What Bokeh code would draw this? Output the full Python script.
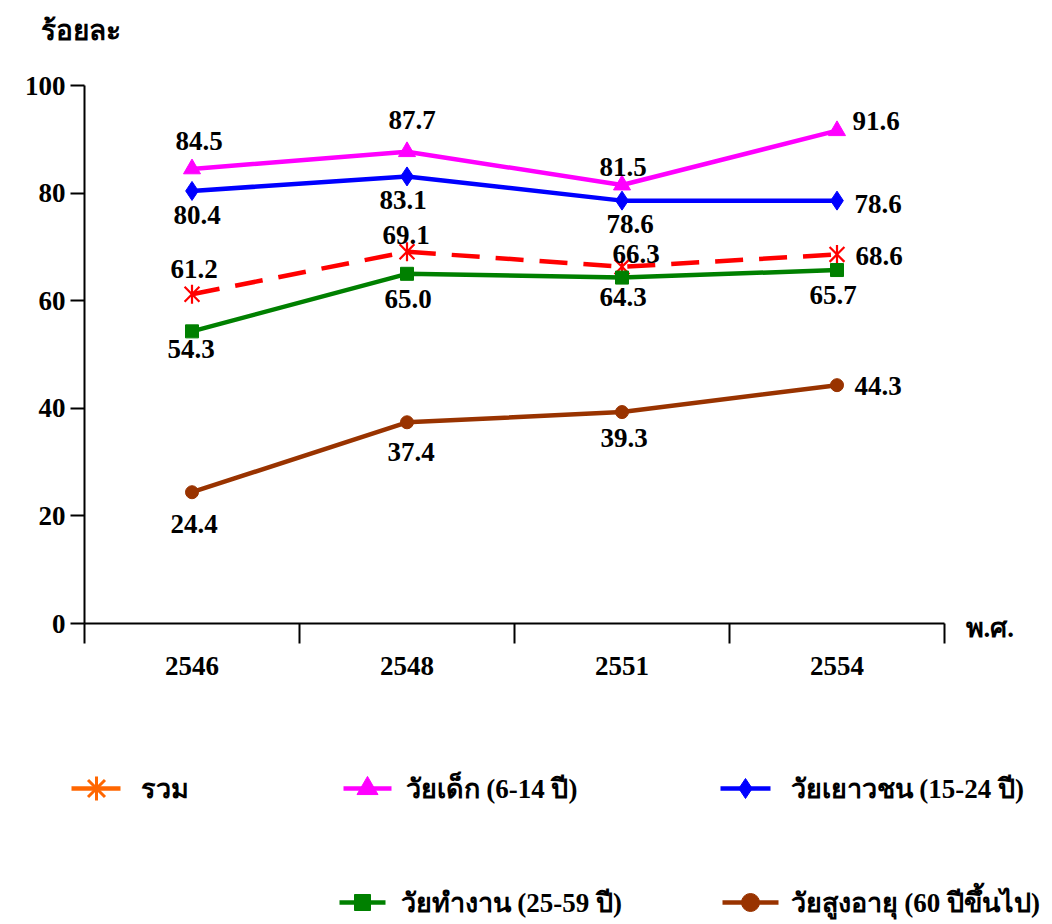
from bokeh.plotting import figure
from bokeh.models import Range1d, FixedTicker, ColumnDataSource
from bokeh.core.properties import value
from bokeh.embed import file_html
from bokeh.resources import INLINE
import math

# ---------------- data ----------------
years = ["2546", "2548", "2551", "2554"]
total = [61.2, 69.1, 66.3, 68.6]        # รวม
children = [84.5, 87.7, 81.5, 91.6]     # วัยเด็ก (6-14 ปี)
youth = [80.4, 83.1, 78.6, 78.6]        # วัยเยาวชน (15-24 ปี)
working = [54.3, 65.0, 64.3, 65.7]      # วัยทำงาน (25-59 ปี)
elderly = [24.4, 37.4, 39.3, 44.3]      # วัยสูงอายุ (60 ปีขึ้นไป)
y_ticks = [0, 20, 40, 60, 80, 100]
series_names = ["รวม", "วัยเด็ก (6-14 ปี)", "วัยเยาวชน (15-24 ปี)",
                "วัยทำงาน (25-59 ปี)", "วัยสูงอายุ (60 ปีขึ้นไป)"]
y_title = "ร้อยละ"
x_title = "พ.ศ."

# label offsets (screen px) — style only
off_total = ([2, -1, 14, 42], [-25, -17, -13, 2])
off_children = ([7, 5, 1, 39], [-28, -32, -18, -10])
off_youth = ([5, -4, 8, 41], [24, 24, 23, 3])
off_working = ([-1, 1, 1, -4], [18, 25, 19, 25])
off_elderly = ([2, 4, 2, 41], [32, 30, 26, 1])

FONT = "Liberation Serif"
FS = "27px"

# ---------------- layout geometry (pixels) ----------------
W, H = 1044, 920
AX_LEFT, AX_RIGHT = 84, 944      # plot area (x axis) in px
AX_TOP, AX_BOTTOM = 85, 623      # y=100 / y=0 in px
n = len(years)
ppx = (AX_RIGHT - AX_LEFT) / n
ppy = (AX_BOTTOM - AX_TOP) / 100.0


def dxp(px):
    return (px - AX_LEFT) / ppx


def dyp(py):
    return (AX_BOTTOM - py) / ppy


xs = [i + 0.5 for i in range(n)]

p = figure(width=W, height=H, output_backend="svg", toolbar_location=None,
           title_location=None,
           x_range=Range1d(dxp(0), dxp(W)), y_range=Range1d(dyp(H), dyp(0)),
           min_border_left=0, min_border_right=0, min_border_top=0,
           min_border_bottom=0)
p.outline_line_color = None
p.grid.grid_line_color = None
p.background_fill_color = "white"
p.border_fill_color = "white"

# x axis, fixed at y = 0
xa = p.xaxis[0]
xa.fixed_location = 0
xa.bounds = (0, n)
xa.ticker = FixedTicker(ticks=xs, minor_ticks=list(range(n + 1)))
xa.major_label_overrides = {x: y for x, y in zip(xs, years)}
xa.major_tick_out = 0
xa.major_tick_in = 0
xa.minor_tick_out = 20
xa.minor_tick_in = 0
xa.minor_tick_line_width = 2
xa.minor_tick_line_color = "black"
xa.axis_line_width = 2
xa.major_label_standoff = 13
xa.major_label_text_font = FONT
xa.major_label_text_font_style = "bold"
xa.major_label_text_font_size = FS
xa.major_label_text_color = "black"

# y axis, fixed at x = 0
ya = p.yaxis[0]
ya.fixed_location = 0
ya.bounds = (0, 100)
ya.ticker = FixedTicker(ticks=y_ticks)
ya.major_tick_out = 14
ya.major_tick_in = 0
ya.major_tick_line_width = 2
ya.minor_tick_line_color = None
ya.axis_line_width = 2
ya.major_label_standoff = 5
ya.major_label_text_font = FONT
ya.major_label_text_font_style = "bold"
ya.major_label_text_font_size = FS
ya.major_label_text_color = "black"

# series
p.line(xs, total, line_color="#FF0000", line_width=4.5, line_dash="28 16")
p.scatter(xs, total, marker="x", size=21, line_color="#FF0000", line_width=2.2)
p.scatter(xs, total, marker="dash", size=19, angle=math.pi / 2, line_color="#FF0000", line_width=2.2)

p.line(xs, children, line_color="#FF00FF", line_width=4.5)
p.scatter(xs, children, marker="triangle", size=17, fill_color="#FF00FF", line_color="#FF00FF")

p.line(xs, youth, line_color="#0000FF", line_width=4.5)
p.scatter(xs, youth, marker="diamond", size=19, fill_color="#0000FF", line_color="#0000FF")

p.line(xs, working, line_color="#008000", line_width=4.5)
p.scatter(xs, working, marker="square", size=13, fill_color="#008000", line_color="#008000")

p.line(xs, elderly, line_color="#993300", line_width=4.5)
p.scatter(xs, elderly, marker="circle", size=13, fill_color="#993300", line_color="#993300")

# data labels
for vals, (ox, oy) in [(total, off_total), (children, off_children), (youth, off_youth),
                       (working, off_working), (elderly, off_elderly)]:
    src = ColumnDataSource(dict(x=xs, y=vals, t=[f"{v:.1f}" for v in vals], dx=ox, dy=oy))
    p.text(x="x", y="y", text="t", x_offset="dx", y_offset="dy", source=src,
           text_font=value(FONT), text_font_style="bold", text_font_size=FS,
           text_align="center", text_baseline="middle", text_color="black")

# axis captions
p.text([dxp(40)], [dyp(30)], text=[y_title], text_font=value(FONT),
       text_font_style="bold", text_font_size="28px", text_align="left",
       text_baseline="middle", text_color="black")
p.text([dxp(965)], [0], text=[x_title], y_offset=[4], text_font=value(FONT),
       text_font_style="bold", text_font_size=FS, text_align="left",
       text_baseline="middle", text_color="black")

# ---------------- legend (drawn below the plot area) ----------------
items = [
    # (x0, x1, xm, y, text_x, color, marker) in pixels
    (71, 120, 96, 788, 140, "#FF6600", "star"),
    (343, 391, 367, 788, 405, "#FF00FF", "triangle"),
    (720, 770, 745, 788, 790, "#0000FF", "diamond"),
    (339, 385, 362, 902, 400, "#008000", "square"),
    (722, 778, 750, 902, 790, "#993300", "circle"),
]
sizes = {"triangle": 21, "diamond": 20, "square": 16, "circle": 18}
for (x0, x1, xm, yy, tx, col, mk), name in zip(items, series_names):
    p.line([dxp(x0), dxp(x1)], [dyp(yy), dyp(yy)], line_color=col, line_width=4.5)
    if mk == "star":
        p.scatter([dxp(xm)], [dyp(yy)], marker="x", size=24, line_color=col, line_width=3)
        p.scatter([dxp(xm)], [dyp(yy)], marker="dash", size=24, angle=math.pi / 2,
                  line_color=col, line_width=3)
    else:
        p.scatter([dxp(xm)], [dyp(yy)], marker=mk, size=sizes[mk], fill_color=col, line_color=col)
    p.text([dxp(tx)], [dyp(yy)], text=[name], text_font=value(FONT), text_font_style="bold",
           text_font_size=FS, text_align="left", text_baseline="middle", text_color="black")

open("out.html", "w").write(file_html(p, INLINE))
